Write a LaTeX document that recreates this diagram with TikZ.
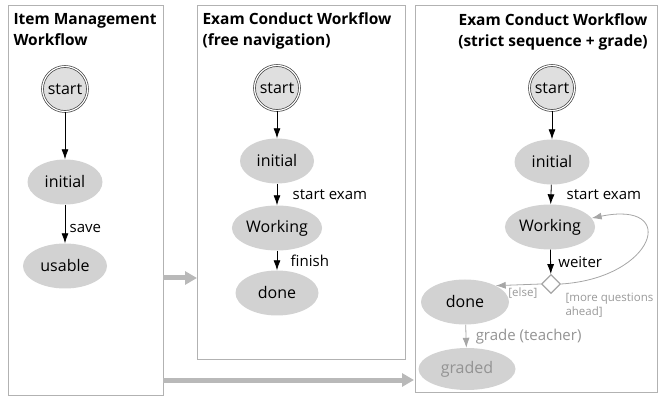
\documentclass[tikz,border=0pt]{standalone}
\usepackage{fontspec}
\setmainfont{Open Sans}
\usetikzlibrary{arrows.meta,shapes.geometric}

\tikzset{
  panel/.style={draw=gray!60, line width=0.8pt},
  title/.style={anchor=west, align=left, font=\fontsize{15.5}{21}\selectfont\bfseries},
  state/.style={ellipse, fill=gray!35, minimum height=45pt, inner sep=1pt, font=\fontsize{16}{18}\selectfont},
  startstate/.style={circle, fill=gray!25, draw=gray!50!black, double=white, double distance=1.2pt, line width=0.7pt, minimum size=45pt, inner sep=0pt, font=\fontsize{16}{18}\selectfont},
  trans/.style={-{Latex[length=10pt,width=7pt]}, line width=0.8pt},
  graytrans/.style={-{Latex[length=10pt,width=7pt]}, line width=0.8pt, draw=gray!70, color=gray!70},
  lbl/.style={anchor=west, font=\fontsize{15}{17}\selectfont},
  small/.style={anchor=west, align=left, text=gray!80, font=\fontsize{11.5}{13.5}\selectfont},
  flow/.style={-{Triangle[length=12pt,width=13pt]}, line width=5pt, draw=gray!55}
}

\begin{document}
\begin{tikzpicture}[x=1pt, y=-1pt]
    \useasboundingbox (0,0) rectangle (662,398);

    % panels
    \draw[panel] (8,5) rectangle (163,395);
    \draw[panel] (197,5) rectangle (405,359);
    \draw[panel] (415,5) rectangle (657,392);

    \node[title] (t1) at (10,30) {Item Management\\Workflow};
    \node[title] (t2) at (199,31) {Exam Conduct Workflow\\(free navigation)};
    \node[title, anchor=center, align=center] (t3) at (553,32) {Exam Conduct Workflow\\(strict sequence + grade)};

    % item management
    \node[startstate] (s1) at (65,89) {start};
    \node[state, minimum width=75pt] (i1) at (65,182) {initial};
    \node[state, minimum width=84pt] (u1) at (65,266) {usable};
    \draw[trans] (s1) -- (i1);
    \draw[trans] (i1) -- (u1) node[lbl, midway, xshift=1pt, yshift=-4pt] {save};

    % free navigation
    \node[startstate] (s2) at (277,88) {start};
    \node[state, minimum width=74pt] (i2) at (277,161) {initial};
    \node[state, minimum width=83pt] (w2) at (277,228) {Working};
    \node[state, minimum width=83pt] (d2) at (277,293) {done};
    \draw[trans] (s2) -- (i2);
    \draw[trans] (i2) -- (w2) node[lbl, midway, xshift=12pt] {start exam};
    \draw[trans] (w2) -- (d2) node[lbl, midway, xshift=10pt] {finish};

    % strict sequence
    \node[startstate] (s3) at (552,88) {start};
    \node[state, minimum width=75pt] (i3) at (552,162) {initial};
    \node[state, minimum width=85pt] (w3) at (550,227) {Working};
    \node[diamond, draw=gray!70, fill=white, line width=1.2pt, minimum size=19pt, inner sep=0pt] (dia) at (551,284) {};
    \node[state, minimum width=88pt] (d3) at (465,302) {done};
    \node[state, minimum width=97pt, minimum height=42pt, text=gray!85] (g3) at (467,369) {graded};
    \draw[trans] (s3) -- (i3);
    \draw[trans] (i3) -- (w3) node[lbl, midway, xshift=12pt] {start exam};
    \draw[trans] (w3) -- (dia) node[lbl, midway, xshift=4pt] {weiter};
    \draw[graytrans] (dia.west) -- (d3.28) node[small, pos=0.2, below, xshift=-9pt] {[else]};
    \draw[graytrans] (dia.east) .. controls (655,278) and (680,200) .. (w3.12);
    \node[small] (more) at (562,305) {[more questions\\ahead]};
    \draw[graytrans] (d3) -- (g3) node[lbl, midway, xshift=6pt, text=gray!85] {grade (teacher)};

    % hand-over between workflows
    \draw[flow] (163,278) -- (197,278);
    \draw[flow] (163,380) -- (414,380);
\end{tikzpicture}
\end{document}
